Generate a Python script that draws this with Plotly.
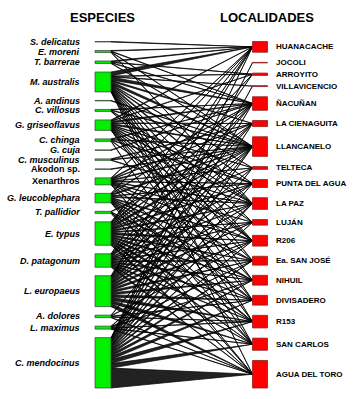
import plotly.graph_objects as go

species = ["S. delicatus", "E. moreni", "T. barrerae", "M. australis", "A. andinus",
           "C. villosus", "G. griseoflavus", "C. chinga", "G. cuja", "C. musculinus",
           "Akodon sp.", "Xenarthros", "G. leucoblephara", "T. pallidior", "E. typus",
           "D. patagonum", "L. europaeus", "A. dolores", "L. maximus", "C. mendocinus"]
italic_species = [True, True, True, True, True, True, True, True, True, True,
                  False, False, True, True, True, True, True, True, True, True]

localities = ["HUANACACHE", "JOCOLI", "ARROYITO", "VILLAVICENCIO", "ÑACUÑAN",
              "LA CIENAGUITA", "LLANCANELO", "TELTECA", "PUNTA DEL AGUA", "LA PAZ",
              "LUJÁN", "R206", "Ea. SAN JOSÉ", "NIHUIL", "DIVISADERO", "R153",
              "SAN CARLOS", "AGUA DEL TORO"]

# interaction web: rows = species, columns = localities (estimated)
web = [
    [1, 0, 0, 0, 0, 0, 0, 0, 0, 0, 0, 0, 0, 0, 0, 0, 0, 0],
    [1, 0, 0, 0, 1, 0, 1, 0, 0, 1, 0, 0, 0, 0, 0, 0, 0, 0],
    [2, 0, 1, 0, 1, 0, 1, 0, 0, 0, 0, 0, 0, 0, 0, 0, 0, 0],
    [8, 0, 1, 1, 6, 3, 5, 1, 2, 3, 1, 2, 1, 2, 1, 1, 1, 1],
    [0, 0, 0, 0, 0, 0, 1, 0, 0, 0, 0, 0, 0, 0, 0, 0, 0, 0],
    [0, 0, 0, 0, 1, 0, 1, 0, 0, 1, 0, 1, 0, 0, 0, 0, 0, 0],
    [2, 0, 1, 0, 3, 1, 3, 1, 1, 2, 1, 2, 1, 1, 1, 1, 0, 0],
    [0, 0, 0, 0, 1, 0, 1, 0, 1, 0, 0, 1, 0, 0, 0, 0, 1, 0],
    [0, 0, 0, 0, 1, 0, 0, 0, 0, 0, 0, 0, 0, 0, 0, 0, 0, 0],
    [0, 0, 0, 0, 0, 1, 1, 0, 0, 1, 0, 0, 0, 0, 0, 0, 0, 0],
    [0, 0, 0, 0, 0, 0, 1, 0, 0, 0, 0, 0, 0, 0, 0, 0, 0, 0],
    [1, 0, 0, 0, 2, 1, 2, 1, 1, 1, 1, 1, 1, 0, 1, 0, 1, 0],
    [1, 0, 0, 0, 1, 0, 3, 0, 1, 2, 0, 2, 2, 2, 1, 2, 1, 1],
    [0, 0, 0, 0, 0, 0, 1, 0, 0, 0, 0, 0, 0, 1, 0, 1, 0, 1],
    [2, 0, 1, 0, 3, 2, 5, 1, 3, 3, 2, 4, 3, 3, 3, 4, 4, 4],
    [1, 0, 0, 0, 2, 1, 3, 0, 2, 2, 1, 2, 2, 2, 2, 2, 2, 3],
    [2, 0, 1, 0, 3, 2, 6, 1, 3, 4, 4, 4, 4, 4, 5, 6, 6, 7],
    [0, 0, 0, 0, 0, 0, 1, 0, 0, 0, 0, 1, 0, 0, 1, 1, 0, 1],
    [0, 0, 0, 0, 0, 0, 0, 0, 0, 1, 0, 0, 1, 1, 0, 1, 1, 1],
    [2, 1, 0, 1, 4, 2, 6, 1, 3, 4, 2, 3, 4, 5, 6, 8, 9, 40],
]

# ---- layout (plotweb-like, vertical) ----
W, H = 357, 399
TOP, BOTTOM = 41.5, 388.0
GAP_L, GAP_R = 8.5, 10.2
XL0, XL1 = 95.0, 111.0      # species boxes
XR0, XR1 = 252.5, 267.5     # locality boxes

row_tot = [sum(r) for r in web]
col_tot = [sum(web[i][j] for i in range(len(web))) for j in range(len(localities))]
total = sum(row_tot)
span = BOTTOM - TOP
kL = (span - (len(species) - 1) * GAP_L) / total
kR = (span - (len(localities) - 1) * GAP_R) / total

def stack(tots, k, gap):
    pos = []
    y = TOP
    for t in tots:
        h = t * k
        pos.append((y, y + h))
        y += h + gap
    return pos

left = stack(row_tot, kL, GAP_L)
right = stack(col_tot, kR, GAP_R)
rmid = [(a + b) / 2 for a, b in right]

fig = go.Figure()

# links
for i, row in enumerate(web):
    y = left[i][0]
    for j, v in enumerate(row):
        if v <= 0:
            continue
        h = v * kL
        fig.add_trace(go.Scatter(
            x=[XL1, XL1, XR0, XL1], y=[y, y + h, rmid[j], y],
            mode="lines", fill="toself",
            fillcolor="rgba(15,15,15,0.92)",
            line=dict(color="rgba(0,0,0,0.7)", width=1.0),
            hoverinfo="skip", showlegend=False))
        y += h

shapes = []
for (a, b) in left:
    shapes.append(dict(type="rect", x0=XL0, x1=XL1, y0=a, y1=b, xref="x", yref="y",
                       fillcolor="#00f000", line=dict(color="#3a3a3a", width=0.7)))
for (a, b) in right:
    shapes.append(dict(type="rect", x0=XR0, x1=XR1, y0=a, y1=b, xref="x", yref="y",
                       fillcolor="#ff0000", line=dict(color="#8b2020", width=0.8)))

ann = []
for i, name in enumerate(species):
    yc = (left[i][0] + left[i][1]) / 2
    txt = f"<b><i>{name}</i></b>" if italic_species[i] else f"<b>{name}</b>"
    ann.append(dict(x=82, y=yc, xref="x", yref="y", text=txt, showarrow=False,
                    xanchor="right", yanchor="middle",
                    font=dict(family="Liberation Sans", size=9, color="#000")))
for j, name in enumerate(localities):
    ann.append(dict(x=274, y=rmid[j], xref="x", yref="y", text=f"<b>{name}</b>",
                    showarrow=False, xanchor="left", yanchor="middle",
                    font=dict(family="Liberation Sans", size=8, color="#000")))
ann.append(dict(x=102, y=17, xref="x", yref="y", text="<b>ESPECIES</b>", showarrow=False,
                xanchor="center", yanchor="middle",
                font=dict(family="Liberation Sans", size=13, color="#000")))
ann.append(dict(x=267, y=17, xref="x", yref="y", text="<b>LOCALIDADES</b>", showarrow=False,
                xanchor="center", yanchor="middle",
                font=dict(family="Liberation Sans", size=13, color="#000")))

fig.update_layout(
    width=W, height=H, margin=dict(l=0, r=0, t=0, b=0),
    paper_bgcolor="white", plot_bgcolor="white",
    xaxis=dict(range=[0, W], visible=False, fixedrange=True),
    yaxis=dict(range=[H, 0], visible=False, fixedrange=True),
    shapes=shapes, annotations=ann, showlegend=False)

fig.write_html("out.html", config={"displayModeBar": False})
